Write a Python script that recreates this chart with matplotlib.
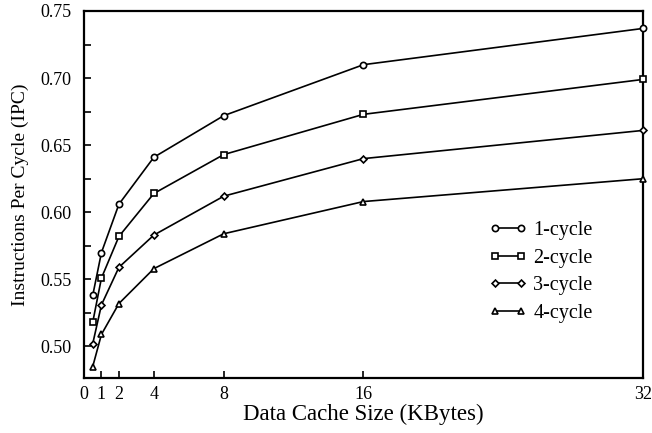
import matplotlib
matplotlib.use('Agg')
import matplotlib.pyplot as plt

# data
cache_kb = [0.5, 1, 2, 4, 8, 16, 32]
ipc_1cycle = [0.538, 0.570, 0.606, 0.641, 0.672, 0.710, 0.737]
ipc_2cycle = [0.518, 0.551, 0.582, 0.614, 0.643, 0.673, 0.699]
ipc_3cycle = [0.502, 0.531, 0.559, 0.583, 0.612, 0.640, 0.661]
ipc_4cycle = [0.485, 0.509, 0.532, 0.558, 0.584, 0.608, 0.625]
labels = ['1-cycle', '2-cycle', '3-cycle', '4-cycle']
xticks = [0, 1, 2, 4, 8, 16, 32]

plt.rcParams['font.family'] = ['Liberation Serif', 'DejaVu Serif']

fig = plt.figure(figsize=(6.52, 4.33), dpi=100)
ax = fig.add_axes([0.1288, 0.127, 0.8574, 0.8476])

series = [ipc_1cycle, ipc_2cycle, ipc_3cycle, ipc_4cycle]
markers = ['o', 's', 'D', '^']
sizes = [4.5, 4.5, 3.5, 4.5]
for vals, m, ms, lab in zip(series, markers, sizes, labels):
    ax.plot(cache_kb, vals, color='black', lw=1.2, marker=m, markersize=ms,
            markerfacecolor='white', markeredgecolor='black', markeredgewidth=1.2,
            label=lab, clip_on=False, zorder=3)

ax.set_xlim(0, 32)
ax.set_ylim(0.4765, 0.75)
ax.set_xticks(xticks)
ax.set_xticklabels([str(t) for t in xticks])
ax.set_yticks([0.50, 0.55, 0.60, 0.65, 0.70, 0.75])
ax.set_yticks([0.525, 0.575, 0.625, 0.675, 0.725], minor=True)
ax.yaxis.set_major_formatter(matplotlib.ticker.FormatStrFormatter('%.2f'))

ax.tick_params(direction='in', length=5, width=1.2, labelsize=13)
ax.tick_params(which='minor', direction='in', length=5, width=1.2)
ax.tick_params(axis='x', pad=6)
ax.tick_params(axis='y', pad=9)
for s in ax.spines.values():
    s.set_linewidth(1.6)

ax.set_xlabel('Data Cache Size (KBytes)', fontsize=16.5, labelpad=0)
ax.set_ylabel('Instructions Per Cycle (IPC)', fontsize=14, labelpad=8)

ax.legend(loc='upper left', bbox_to_anchor=(0.7245, 0.428), frameon=False,
          fontsize=14.5, numpoints=2, handlelength=1.9, handletextpad=0.3,
          labelspacing=0.42, borderpad=0, borderaxespad=0)

plt.savefig('out.png', dpi=100)
